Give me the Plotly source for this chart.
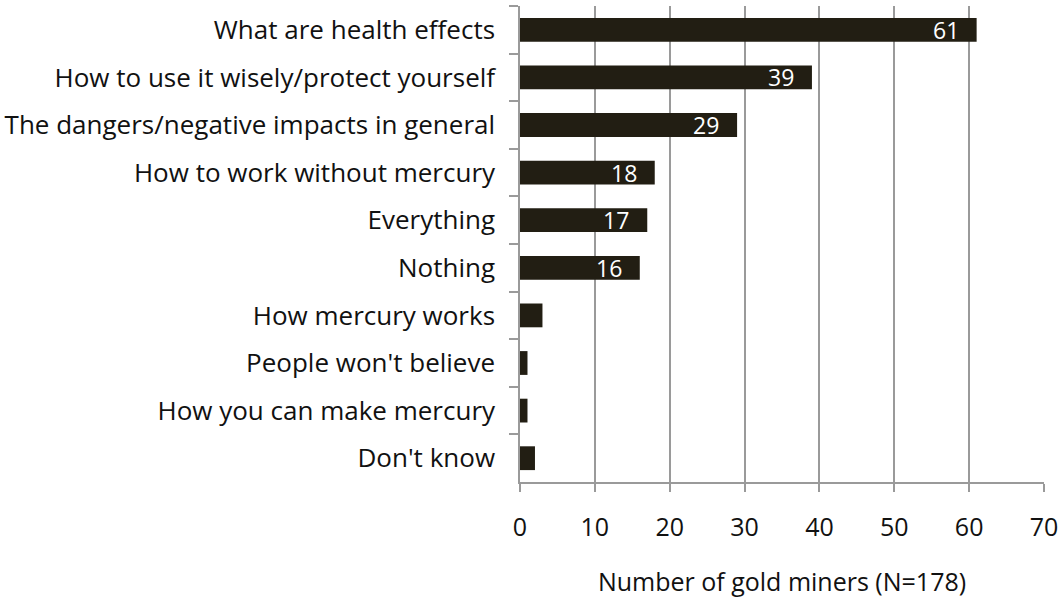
import plotly.graph_objects as go

# Survey responses: what gold miners want to learn about mercury
categories = [
    "What are health effects",
    "How to use it wisely/protect yourself",
    "The dangers/negative impacts in general",
    "How to work without mercury",
    "Everything",
    "Nothing",
    "How mercury works",
    "People won't believe",
    "How you can make mercury",
    "Don't know",
]
counts = [61, 39, 29, 18, 17, 16, 3, 1, 1, 2]
labelled = [True, True, True, True, True, True, False, False, False, False]

x_ticks = [0, 10, 20, 30, 40, 50, 60, 70]

BAR = "#221e13"
GRID = "#9a9a9a"
FONT = "Open Sans"
SIZE = 25

fig = go.Figure(
    go.Bar(
        x=counts,
        y=categories,
        orientation="h",
        marker=dict(color=BAR, line=dict(width=0)),
        hoverinfo="x+y",
    )
)

# value labels sitting inside the end of each bar
for cat, val, show in zip(categories, counts, labelled):
    if show:
        fig.add_annotation(
            x=val, y=cat, text=str(val), showarrow=False,
            xanchor="right", yanchor="middle", xshift=-16,
            font=dict(family=FONT, size=SIZE - 2, color="white"),
        )

fig.update_layout(
    width=1063,
    height=600,
    margin=dict(l=520, r=19, t=6, b=118),
    paper_bgcolor="white",
    plot_bgcolor="white",
    bargap=0.5,
    showlegend=False,
    font=dict(family=FONT, size=SIZE, color="#111111"),
)

fig.update_xaxes(
    range=[0, 70],
    tickvals=x_ticks,
    ticktext=[str(v) for v in x_ticks],
    showgrid=True,
    gridcolor=GRID,
    gridwidth=1.5,
    zeroline=False,
    showline=True,
    linecolor=GRID,
    linewidth=1.5,
    ticks="outside",
    ticklen=8,
    tickwidth=1.5,
    tickcolor=GRID,
    ticklabelstandoff=14,
    automargin=False,
    title=dict(text="Number of gold miners (N=178)", standoff=32,
               font=dict(family=FONT, size=SIZE)),
)

fig.update_yaxes(
    categoryorder="array",
    categoryarray=categories,
    autorange="reversed",
    showgrid=False,
    zeroline=False,
    showline=True,
    linecolor=GRID,
    linewidth=1.5,
    ticks="outside",
    tickson="boundaries",
    ticklen=9,
    tickwidth=1.5,
    tickcolor=GRID,
    ticklabelstandoff=18,
    automargin=False,
    tickfont=dict(family=FONT, size=26),
)

fig.write_html("out.html")
